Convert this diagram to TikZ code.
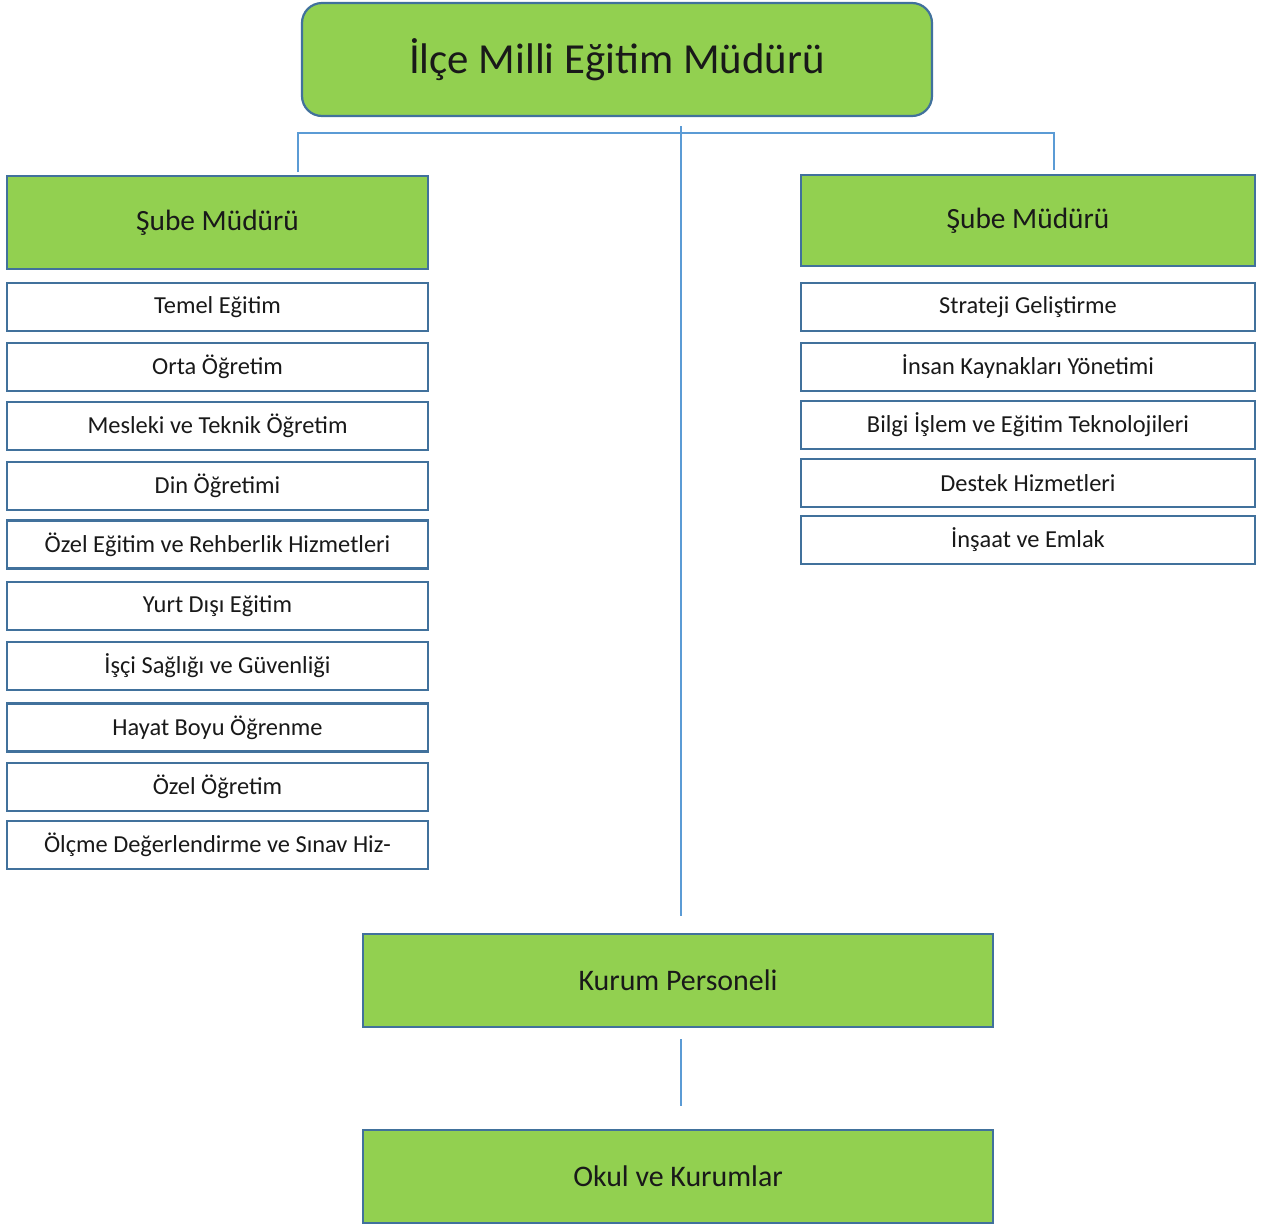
\documentclass[tikz,border=0pt]{standalone}
\usepackage{fontspec}
\setmainfont{Carlito}
\definecolor{boxgreen}{HTML}{92D050}
\definecolor{boxedge}{HTML}{41719C}
\definecolor{linkblue}{HTML}{5B9BD5}
\begin{document}
\begin{tikzpicture}[x=1bp,y=-1bp,
  greenbox/.style={draw=boxedge,line width=2.2bp,fill=boxgreen,inner sep=0pt,text=black!90},
  listbox/.style={draw=boxedge,line width=2.2bp,fill=white,inner sep=0pt,text=black!90,font=\fontsize{24.5}{28}\selectfont},
  link/.style={draw=linkblue,line width=2bp}]
\useasboundingbox (0,0) rectangle (1272,1227);
% top
\node[greenbox,rounded corners=20bp,minimum width=630bp,minimum height=113bp,font=\fontsize{43}{50}\selectfont] (top) at (617,59.5) {İlçe Milli Eğitim Müdürü};
% sube boxes
\node[greenbox,minimum width=421bp,minimum height=93bp,font=\fontsize{29.5}{34}\selectfont] (sl) at (217.5,222.5) {Şube Müdürü};
\node[greenbox,minimum width=454bp,minimum height=91bp,font=\fontsize{29.5}{34}\selectfont] (sr) at (1028,220.5) {Şube Müdürü};
% left list
\foreach \name/\y/\t in {l1/307/Temel Eğitim, l2/367/Orta Öğretim, l3/426/Mesleki ve Teknik Öğretim, l4/486/Din Öğretimi, l5/544.5/Özel Eğitim ve Rehberlik Hizmetleri, l6/606/Yurt Dışı Eğitim, l7/666/İşçi Sağlığı ve Güvenliği, l8/727.5/Hayat Boyu Öğrenme, l9/787/Özel Öğretim, l10/845/Ölçme Değerlendirme ve Sınav Hiz-}
  \node[listbox,minimum width=421bp,minimum height=48bp] (\name) at (217.5,\y) {\t};
% right list
\foreach \name/\y/\t in {r1/307/Strateji Geliştirme, r2/367/İnsan Kaynakları Yönetimi, r3/425/Bilgi İşlem ve Eğitim Teknolojileri, r4/483/Destek Hizmetleri, r5/540/İnşaat ve Emlak}
  \node[listbox,minimum width=454bp,minimum height=48bp] (\name) at (1028,\y) {\t};
% bottom
\node[greenbox,minimum width=630bp,minimum height=93bp,font=\fontsize{30}{35}\selectfont] (kp) at (678,980.5) {Kurum Personeli};
\node[greenbox,minimum width=630bp,minimum height=93bp,font=\fontsize{30}{35}\selectfont] (ok) at (678,1176.5) {Okul ve Kurumlar};
% connectors
\coordinate (hl) at (298,133);
\coordinate (hr) at (1054,133);
\coordinate (ctop) at (681,126);
\coordinate (cbot) at (681,916);
\coordinate (k1) at (681,1039);
\coordinate (k2) at (681,1106);
\path[link] (298,172) -- (hl) -- (hr) -- (1054,170);
\path[link] (ctop) -- (cbot);
\path[link] (k1) -- (k2);
\end{tikzpicture}
\end{document}
